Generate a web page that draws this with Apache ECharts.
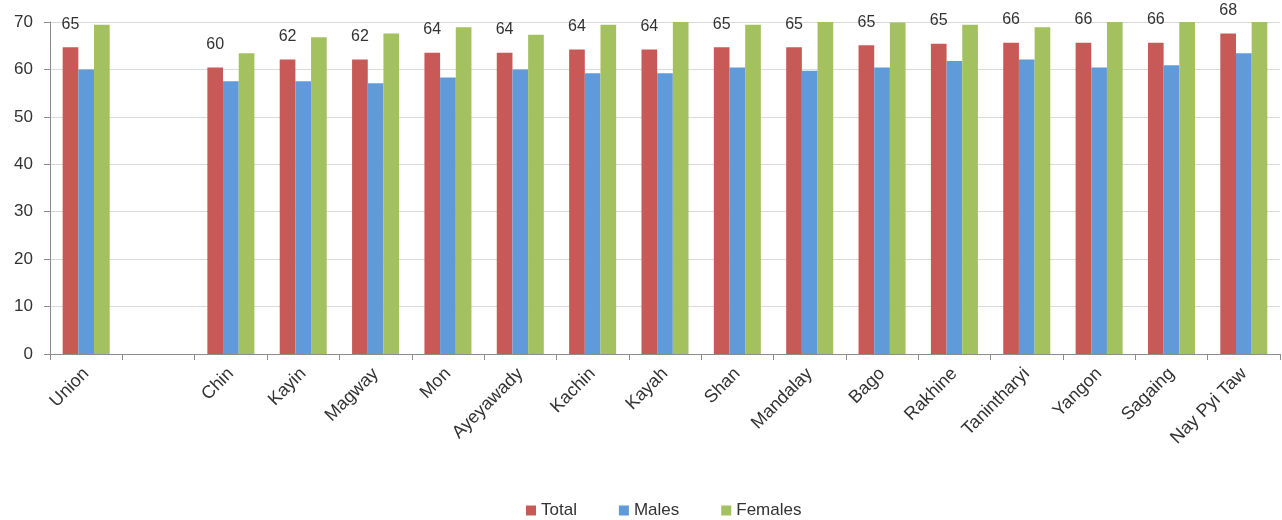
<!DOCTYPE html>
<html>
<head>
<meta charset="utf-8">
<title>Life expectancy by State/Region</title>
<script src="https://cdn.jsdelivr.net/npm/echarts@6/dist/echarts.min.js"></script>
<style>
  html, body { margin: 0; padding: 0; background: #ffffff; }
  #chart { width: 1282px; height: 520px; }
</style>
</head>
<body>
<div id="chart"></div>
<script>
// categories (second slot is an empty spacer column, like the source)
var regions = ['Union', '', 'Chin', 'Kayin', 'Magway', 'Mon', 'Ayeyawady', 'Kachin', 'Kayah',
  'Shan', 'Mandalay', 'Bago', 'Rakhine', 'Tanintharyi', 'Yangon', 'Sagaing', 'Nay Pyi Taw'];

var totalValues = [64.7, null, 60.4, 62.1, 62.1, 63.5, 63.5, 64.2, 64.2,
  64.7, 64.7, 65.1, 65.4, 65.6, 65.6, 65.6, 67.6];
var maleValues = [60.0, null, 57.5, 57.5, 57.1, 58.3, 60.0, 59.2, 59.2,
  60.4, 59.7, 60.4, 61.8, 62.1, 60.4, 60.9, 63.4];
// some female bars run past the top of the axis and get cut off at 70
var femaleValues = [69.4, null, 63.4, 66.8, 67.6, 68.9, 67.3, 69.4, 70.6,
  69.4, 70.5, 69.9, 69.4, 68.9, 70.6, 70.4, 70.8];

var yTicks = [0, 10, 20, 30, 40, 50, 60, 70];

var font = 'Liberation Sans, Arial, sans-serif';
var chart = echarts.init(document.getElementById('chart'));

var option = {
  backgroundColor: '#ffffff',
  animation: false,
  color: ['#C75A56', '#619AD8', '#A4C160'],
  textStyle: { fontFamily: font },
  grid: {
    left: 50,
    right: 2,
    top: 22,
    bottom: 166
  },
  legend: {
    data: ['Total', 'Males', 'Females'],
    left: 521,
    top: 497,
    itemWidth: 10,
    itemHeight: 10,
    itemGap: 42,
    icon: 'rect',
    textStyle: { fontFamily: font, fontSize: 17, color: '#333' }
  },
  xAxis: {
    type: 'category',
    data: regions,
    axisLine: { lineStyle: { color: '#8c8c8c' } },
    axisTick: { show: true, lineStyle: { color: '#8c8c8c' }, length: 6 },
    axisLabel: {
      interval: 0,
      rotate: 45,
      margin: 17,
      fontFamily: font,
      fontSize: 18,
      color: '#333'
    }
  },
  yAxis: {
    type: 'value',
    min: yTicks[0],
    max: yTicks[yTicks.length - 1],
    interval: 10,
    axisLine: { show: true, lineStyle: { color: '#8c8c8c' } },
    axisTick: { show: true, length: 6, lineStyle: { color: '#8c8c8c' } },
    axisLabel: { margin: 17, fontFamily: font, fontSize: 17, color: '#333' },
    splitLine: { lineStyle: { color: '#d9d9d9' } }
  },
  series: [
    {
      name: 'Total',
      type: 'bar',
      data: totalValues,
      barGap: 0,
      barCategoryGap: '35%',
      clip: true,
      label: {
        show: true,
        position: 'top',
        distance: 15,
        fontFamily: font,
        fontSize: 16,
        color: '#333',
        formatter: function (p) { return Math.round(p.value); }
      }
    },
    {
      name: 'Males',
      type: 'bar',
      data: maleValues,
      barGap: 0,
      barCategoryGap: '35%',
      clip: true
    },
    {
      name: 'Females',
      type: 'bar',
      data: femaleValues,
      barGap: 0,
      barCategoryGap: '35%',
      clip: true
    }
  ]
};

chart.setOption(option);
</script>
</body>
</html>
